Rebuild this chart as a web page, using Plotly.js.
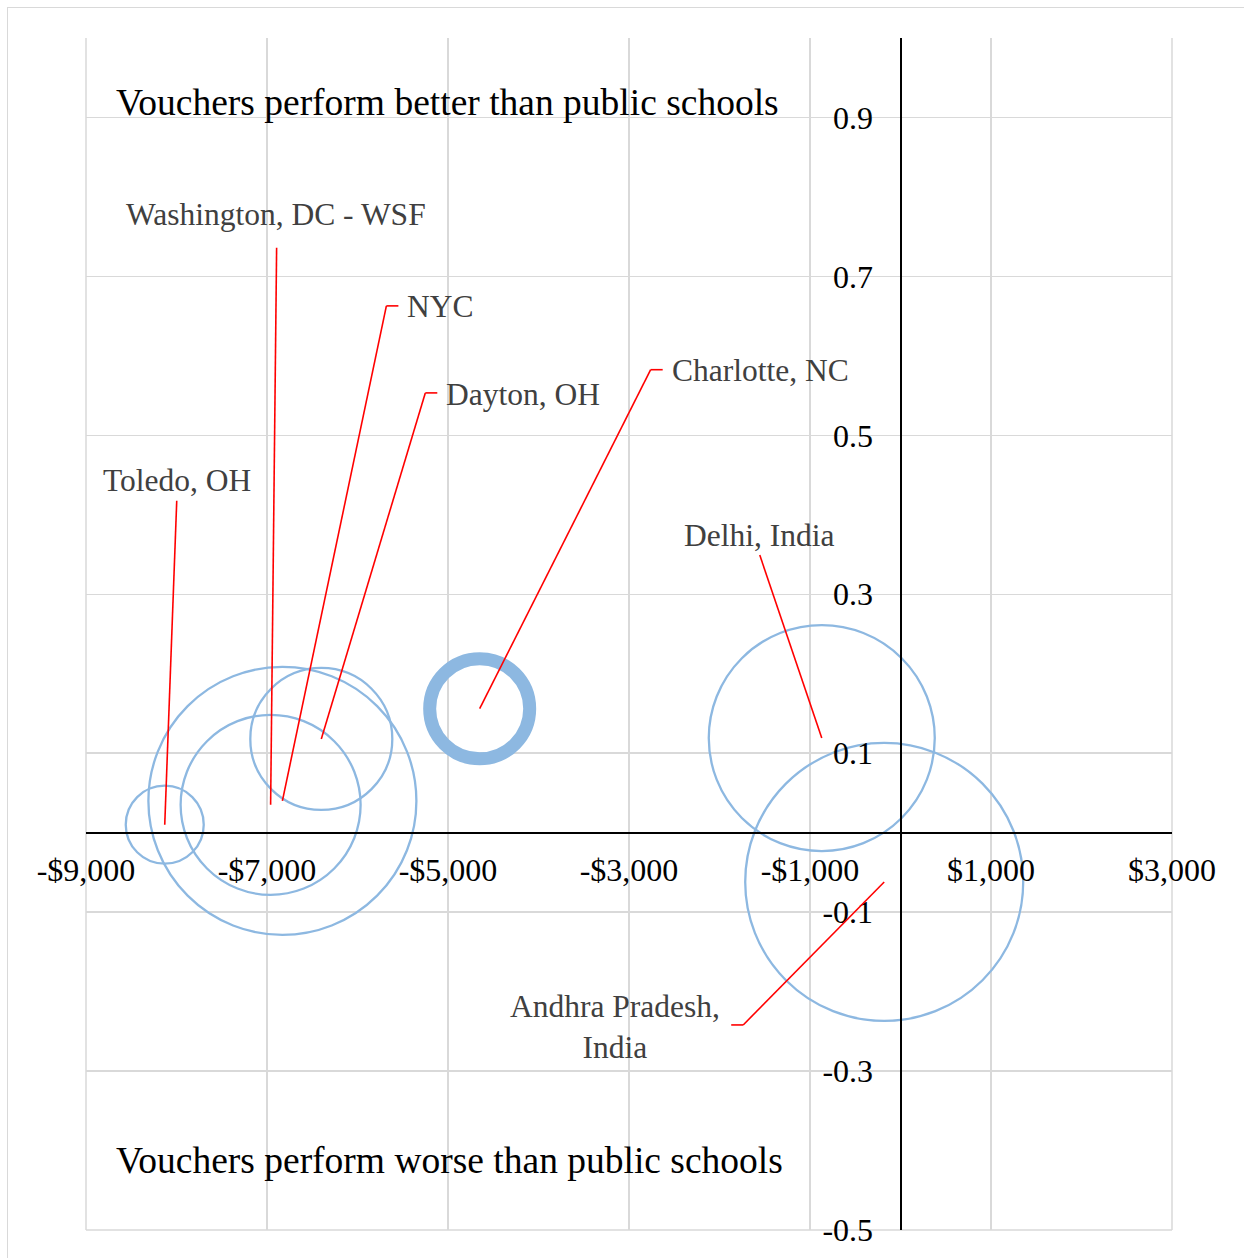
<!DOCTYPE html>
<html>
<head>
<meta charset="utf-8">
<script src="https://cdn.plot.ly/plotly-3.0.1.min.js"></script>
<style>
  html, body { margin: 0; padding: 0; background: #ffffff; }
  #chart { position: absolute; left: 0; top: 0; width: 1244px; height: 1258px; }
  #frame { position: absolute; left: 7px; top: 7px; width: 1300px; height: 1300px;
           border-left: 1.5px solid #d9d9d9; border-top: 1.5px solid #d9d9d9;
           pointer-events: none; z-index: 5; }
</style>
</head>
<body>
<div id="chart"></div>
<div id="frame"></div>
<script>
// ---- Data ----
const programs   = ["Toledo, OH", "Washington, DC - WSF", "NYC", "Dayton, OH", "Charlotte, NC", "Delhi, India", "Andhra Pradesh, India"];
const costDiff   = [-8130, -6960, -6830, -6400, -4650, -870, -180];       // cost difference vs public schools ($)
const effectSize = [0.010, 0.035, 0.040, 0.118, 0.156, 0.119, -0.062];    // effect size
const bubbleSize = [78, 180, 268, 142, 100, 226, 278];                   // relative bubble size

const xTickVals = [-9000, -7000, -5000, -3000, -1000, 1000, 3000];
const xTickText = ["-$9,000", "-$7,000", "-$5,000", "-$3,000", "-$1,000", "$1,000", "$3,000"];
const yTickVals = [-0.5, -0.3, -0.1, 0.1, 0.3, 0.5, 0.7, 0.9];
const yTickText = ["-0.5", "-0.3", "-0.1", "0.1", "0.3", "0.5", "0.7", "0.9"];

const quadrantTop    = "Vouchers perform better than public schools";
const quadrantBottom = "Vouchers perform worse than public schools";

// ---- Label placement (pixel offsets from each bubble centre; y positive = up) ----
const labelStyle = {
  "Toledo, OH":            { leader: [[12, 324]],               text: [12, 344],  anchor: "center", html: "Toledo, OH" },
  "Washington, DC - WSF":  { leader: [[6, 557]],                text: [5, 590],   anchor: "center", html: "Washington, DC - WSF" },
  "NYC":                   { leader: [[104, 495], [116, 495]],  text: [123, 494], anchor: "left",   html: "NYC" },
  "Dayton, OH":            { leader: [[104, 346], [116, 346]],  text: [123, 344], anchor: "left",   html: "Dayton, OH" },
  "Charlotte, NC":         { leader: [[171, 339], [183, 339]],  text: [190, 338], anchor: "left",   html: "Charlotte, NC" },
  "Delhi, India":          { leader: [[-62, 183]],              text: [-63, 203], anchor: "center", html: "Delhi, India" },
  "Andhra Pradesh, India": { leader: [[-141, -143], [-153, -143]], text: [-269, -145], anchor: "center", html: "Andhra Pradesh,<br>India" }
};

const serif = '"Liberation Serif", "Times New Roman", serif';
const bubbleColor = "#8db8e1";
const gridColor = "#d9d9d9";

const lineWidths = programs.map(p => p === "Charlotte, NC" ? 13 : 2.3);

const trace = {
  type: "scatter",
  mode: "markers",
  x: costDiff,
  y: effectSize,
  text: programs,
  hoverinfo: "text",
  marker: {
    size: bubbleSize,
    sizemode: "diameter",
    sizeref: 1,
    opacity: 1,
    color: "rgba(0,0,0,0)",
    line: { color: bubbleColor, width: lineWidths }
  },
  showlegend: false
};

// plot-area edge gridlines (left, right, bottom)
const shapes = [
  { type: "line", xref: "paper", yref: "paper", x0: 0, x1: 0, y0: 0, y1: 1, line: { color: gridColor, width: 1.5 }, layer: "below" },
  { type: "line", xref: "paper", yref: "paper", x0: 1, x1: 1, y0: 0, y1: 1, line: { color: gridColor, width: 1.5 }, layer: "below" },
  { type: "line", xref: "paper", yref: "paper", x0: 0, x1: 1, y0: 0, y1: 0, line: { color: gridColor, width: 1.5 }, layer: "below" }
];
const annotations = [];
programs.forEach((p, i) => {
  const st = labelStyle[p];
  let prev = [0, 0];
  st.leader.forEach(pt => {
    shapes.push({
      type: "line", xref: "x", yref: "y",
      xsizemode: "pixel", ysizemode: "pixel",
      xanchor: costDiff[i], yanchor: effectSize[i],
      x0: prev[0], y0: prev[1], x1: pt[0], y1: pt[1],
      line: { color: "#ff0000", width: 1.6 },
      layer: "above"
    });
    prev = pt;
  });
  annotations.push({
    x: costDiff[i], y: effectSize[i], xref: "x", yref: "y",
    xshift: st.text[0], yshift: st.text[1],
    xanchor: st.anchor, yanchor: "middle", align: "center",
    text: st.html, showarrow: false,
    font: { family: serif, size: 31.5, color: "#404040" }
  });
});

annotations.push({
  xref: "paper", yref: "paper", x: 0.026, y: 0.9463, xanchor: "left", yanchor: "middle",
  text: quadrantTop, showarrow: false, font: { family: serif, size: 37.5, color: "#000000" }
});
annotations.push({
  xref: "paper", yref: "paper", x: 0.026, y: 0.0579, xanchor: "left", yanchor: "middle",
  text: quadrantBottom, showarrow: false, font: { family: serif, size: 37.5, color: "#000000" }
});

const layout = {
  width: 1244,
  height: 1258,
  margin: { l: 86, r: 72, t: 38, b: 28 },
  paper_bgcolor: "#ffffff",
  plot_bgcolor: "#ffffff",
  font: { family: serif, color: "#000000" },
  xaxis: {
    range: [-9000, 3000],
    tickvals: xTickVals,
    ticktext: xTickText,
    anchor: "free",
    position: 1 / 3,
    showline: true, linecolor: "#000000", linewidth: 2,
    showgrid: true, gridcolor: gridColor, gridwidth: 1.5,
    zeroline: false,
    ticks: "",
    ticklabelstandoff: 9,
    tickfont: { family: serif, size: 32, color: "#000000" }
  },
  yaxis: {
    range: [-0.5, 1.0],
    tickvals: yTickVals,
    ticktext: yTickText,
    anchor: "free",
    position: 0.75,
    showline: true, linecolor: "#000000", linewidth: 2,
    showgrid: true, gridcolor: gridColor, gridwidth: 1.5,
    zeroline: false,
    ticks: "",
    ticklabelstandoff: 20,
    tickfont: { family: serif, size: 32, color: "#000000" }
  },
  shapes: shapes,
  annotations: annotations,
  hovermode: "closest"
};

Plotly.newPlot("chart", [trace], layout, { displayModeBar: false, staticPlot: true });
</script>
</body>
</html>
